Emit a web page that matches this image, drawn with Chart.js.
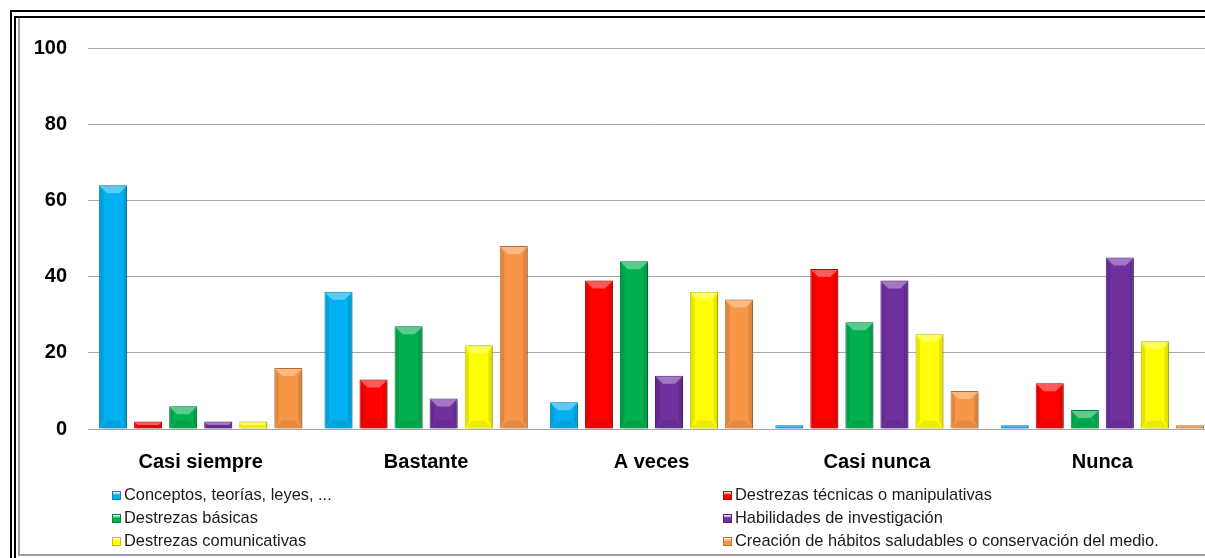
<!DOCTYPE html>
<html>
<head>
<meta charset="utf-8">
<script src="https://cdn.jsdelivr.net/npm/chart.js@4/dist/chart.umd.min.js"></script>
<style>
    html, body { margin: 0; padding: 0; background: #fff; overflow: hidden; }
    body { width: 1205px; height: 558px; position: relative; }
    #wrap { position: absolute; left: 0; top: 0; width: 1240px; height: 558px; }
    .frame { position: absolute; box-sizing: border-box; }
    #outer { left: 10px; top: 10px; width: 1300px; height: 600px; border-left: 2px solid #000; border-top: 2px solid #000; }
    #inner { left: 14px; top: 16px; width: 1300px; height: 600px; border-left: 2px solid #000; border-top: 2px solid #000; }
    #plotBox { left: 18px; top: 18px; width: 1300px; height: 538px; border-left: 2px solid #a0a0a0; border-bottom: 2px solid #a0a0a0; }
    #legend { position: absolute; left: 0; top: 0; font-family: "Liberation Sans", Arial, sans-serif; font-size: 16.4px; color: #1a1a1a; }
    .item { position: absolute; white-space: nowrap; line-height: 18px; }
    .mark { display: inline-block; width: 9px; height: 9px; margin-right: 3px; vertical-align: 0px; box-sizing: border-box; }
</style>
</head>
<body>
<div class="frame" id="outer"></div>
<div class="frame" id="inner"></div>
<div class="frame" id="plotBox"></div>
<div id="wrap"><canvas id="chart"></canvas></div>
<div id="legend"></div>
<script>
// Categories and series
const categories = ['Casi siempre', 'Bastante', 'A veces', 'Casi nunca', 'Nunca'];
const seriesNames = [
    'Conceptos, teorías, leyes, ...',
    'Destrezas técnicas o manipulativas',
    'Destrezas básicas',
    'Habilidades de investigación',
    'Destrezas comunicativas',
    'Creación de hábitos saludables o conservación del medio.'
];
const seriesColors = ['#00b0f0', '#ff0000', '#00b050', '#7030a0', '#ffff00', '#f79646'];
const borderColors = ['#0089bb', '#c00000', '#00873c', '#55207d', '#c8c800', '#c4702c'];

// Values per series (one per category)
const conceptos = [64, 36, 7, 1, 1];
const tecnicas = [2, 13, 39, 42, 12];
const basicas = [6, 27, 44, 28, 5];
const investigacion = [2, 8, 14, 39, 45];
const comunicativas = [2, 22, 36, 25, 23];
const habitos = [16, 48, 34, 10, 1];
const seriesValues = [conceptos, tecnicas, basicas, investigacion, comunicativas, habitos];

const yTicks = [0, 20, 40, 60, 80, 100];

// Shadow + bevel look of the bars
const bevelPlugin = {
    id: 'bevel',
    beforeDatasetDraw(chart) {
        const ctx = chart.ctx;
        ctx.save();
        ctx.shadowColor = 'rgba(0,0,0,0.35)';
        ctx.shadowBlur = 3;
        ctx.shadowOffsetX = 2;
        ctx.shadowOffsetY = 1;
    },
    afterDatasetDraw(chart, args) {
        const ctx = chart.ctx;
        ctx.restore();
        const meta = args.meta;
        meta.data.forEach(bar => {
            const p = bar.getProps(['x', 'y', 'base', 'width'], true);
            const l = p.x - p.width / 2 + 1, r = p.x + p.width / 2 - 1;
            const t = Math.min(p.y, p.base) + 1, b = Math.max(p.y, p.base) - 1;
            const h = b - t;
            if (h <= 0) return;
            const bv = Math.min(7, h / 2, p.width / 3);
            ctx.save();
            // top facet
            ctx.fillStyle = 'rgba(255,255,255,0.35)';
            ctx.beginPath();
            ctx.moveTo(l, t); ctx.lineTo(r, t); ctx.lineTo(r - bv, t + bv); ctx.lineTo(l + bv, t + bv);
            ctx.closePath(); ctx.fill();
            // sides
            ctx.fillStyle = 'rgba(0,0,0,0.10)';
            ctx.beginPath();
            ctx.moveTo(l, t); ctx.lineTo(l + bv * 0.5, t + bv); ctx.lineTo(l + bv * 0.5, b - bv); ctx.lineTo(l, b);
            ctx.closePath(); ctx.fill();
            ctx.beginPath();
            ctx.moveTo(r, t); ctx.lineTo(r - bv * 0.5, t + bv); ctx.lineTo(r - bv * 0.5, b - bv); ctx.lineTo(r, b);
            ctx.closePath(); ctx.fill();
            // bottom facet
            ctx.fillStyle = 'rgba(0,0,0,0.08)';
            ctx.beginPath();
            ctx.moveTo(l, b); ctx.lineTo(r, b); ctx.lineTo(r - bv, b - bv); ctx.lineTo(l + bv, b - bv);
            ctx.closePath(); ctx.fill();
            ctx.restore();
        });
    }
};

function initChart() {
    const ctx = document.getElementById('chart').getContext('2d');

    new Chart(ctx, {
        type: 'bar',
        data: {
            labels: categories,
            datasets: seriesNames.map((name, i) => ({
                label: name,
                data: seriesValues[i],
                backgroundColor: seriesColors[i],
                borderColor: borderColors[i],
                borderWidth: 1,
                barPercentage: 0.8,
                categoryPercentage: 0.933
            }))
        },
        options: {
            responsive: true,
            maintainAspectRatio: false,
            animation: false,
            layout: { padding: { left: 0, top: 48, right: 25, bottom: 79 } },
            plugins: {
                legend: { display: false },
                tooltip: { enabled: false }
            },
            scales: {
                x: {
                    grid: { display: false },
                    border: { display: false },
                    ticks: {
                        color: '#000',
                        padding: 13,
                        font: { family: 'Liberation Sans, Arial, sans-serif', size: 20, weight: 'bold' }
                    },
                    afterFit: scale => { scale.height = 50; }
                },
                y: {
                    min: 0,
                    max: 100,
                    afterBuildTicks: scale => { scale.ticks = yTicks.map(v => ({ value: v })); },
                    grid: { color: '#a6a6a6', lineWidth: 1, drawTicks: false },
                    border: { display: false },
                    ticks: {
                        color: '#000',
                        padding: 21,
                        font: { family: 'Liberation Sans, Arial, sans-serif', size: 20, weight: 'bold' }
                    },
                    afterFit: scale => { scale.width = 88; }
                }
            }
        },
        plugins: [bevelPlugin]
    });
}

// Two-column legend under the chart
function buildLegend() {
    const legend = document.getElementById('legend');
    const colX = [112, 723];
    const rowY = [485, 508, 531];
    seriesNames.forEach((name, i) => {
        const item = document.createElement('div');
        item.className = 'item';
        item.style.left = colX[i % 2] + 'px';
        item.style.top = rowY[Math.floor(i / 2)] + 'px';
        const mark = document.createElement('span');
        mark.className = 'mark';
        mark.style.background = 'linear-gradient(180deg, rgba(255,255,255,0.45) 0%, ' + seriesColors[i] + ' 45%, ' + seriesColors[i] + ' 100%)';
        mark.style.border = '1px solid ' + borderColors[i];
        item.appendChild(mark);
        item.appendChild(document.createTextNode(name));
        legend.appendChild(item);
    });
}

window.onload = () => {
    initChart();
    buildLegend();
};
</script>
</body>
</html>
